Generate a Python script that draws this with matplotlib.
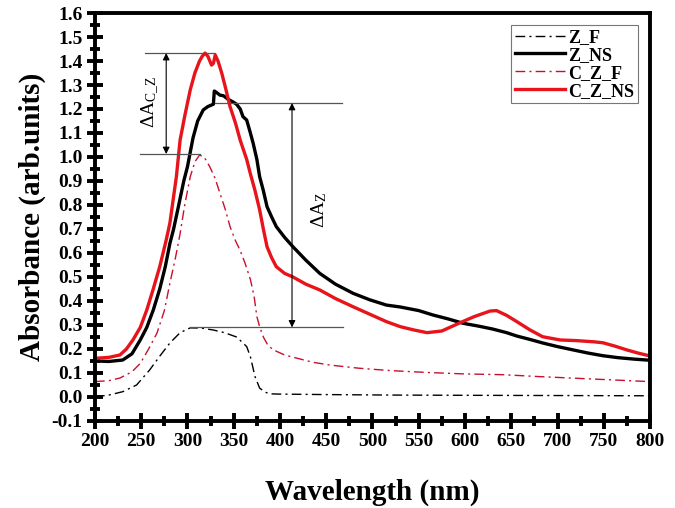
import matplotlib
matplotlib.use("Agg")
import matplotlib.pyplot as plt
from matplotlib.ticker import MultipleLocator

plt.rcParams['font.family'] = ['Liberation Serif', 'DejaVu Serif']
plt.rcParams['mathtext.fontset'] = 'custom'
plt.rcParams['mathtext.rm'] = 'Liberation Serif'
plt.rcParams['mathtext.it'] = 'Liberation Serif'

# Z_F (black dash-dot)
zf_x = [200, 215, 230, 245, 259, 270, 281, 292, 303, 315, 328, 340, 353, 360, 364,
        368, 373, 378, 384, 389, 400, 450, 519, 600, 700, 800]
zf_y = [0.001, 0.008, 0.022, 0.05, 0.112, 0.17, 0.225, 0.268, 0.288, 0.287, 0.279,
        0.268, 0.25, 0.225, 0.21, 0.168, 0.085, 0.037, 0.02, 0.013, 0.012, 0.01,
        0.008, 0.007, 0.006, 0.005]

# Z_NS (black solid)
zns_x = [200, 215, 230, 240, 249, 256, 263, 270, 276, 281, 285, 290, 296, 300, 306,
         311, 317, 322, 328, 329, 331, 335, 339, 344, 349, 353, 357, 360, 364, 368,
         371, 375, 378, 382, 386, 391, 396, 405, 414, 428, 443, 460, 479, 497, 515,
         530, 550, 565, 582, 598, 615, 630, 645, 656, 670, 684, 700, 717, 733, 749,
         765, 782, 800]
zns_y = [0.15, 0.148, 0.154, 0.18, 0.238, 0.29, 0.362, 0.45, 0.543, 0.64, 0.7,
         0.79, 0.9, 0.96, 1.08, 1.15, 1.196, 1.21, 1.22, 1.275, 1.27, 1.258, 1.255,
         1.24, 1.23, 1.22, 1.2, 1.168, 1.154, 1.1, 1.057, 0.99, 0.918, 0.86, 0.793,
         0.75, 0.71, 0.665, 0.626, 0.57, 0.515, 0.47, 0.432, 0.405, 0.383, 0.375,
         0.36, 0.342, 0.325, 0.307, 0.295, 0.283, 0.268, 0.254, 0.24, 0.225, 0.21,
         0.196, 0.183, 0.172, 0.164, 0.158, 0.153]

# C_Z_F (red dash-dot)
czf_x = [200, 215, 227, 240, 249, 258, 267, 275, 281, 287, 292, 297, 303, 308, 313,
         318, 324, 330, 335, 341, 346, 352, 357, 362, 368, 372, 375, 378, 382, 387,
         393, 405, 418, 435, 454, 485, 519, 560, 600, 640, 680, 720, 760, 800]
czf_y = [0.064, 0.068, 0.079, 0.105, 0.14, 0.2, 0.266, 0.36, 0.474, 0.58, 0.68,
         0.8, 0.918, 0.98, 1.008, 1.0, 0.96, 0.91, 0.85, 0.78, 0.71, 0.65, 0.61,
         0.56, 0.49, 0.42, 0.335, 0.293, 0.25, 0.215, 0.196, 0.175, 0.162, 0.145,
         0.133, 0.12, 0.11, 0.102, 0.096, 0.093, 0.085, 0.078, 0.071, 0.064]

# C_Z_NS (red solid)
czns_x = [200, 215, 227, 234, 241, 249, 256, 263, 270, 277, 281, 288, 292, 297, 303,
          308, 313, 316, 319, 322, 326, 328, 330, 333, 337, 341, 346, 352, 357, 364,
          368, 373, 378, 382, 386, 391, 396, 405, 414, 428, 443, 460, 479, 497, 515,
          530, 545, 559, 575, 595, 610, 627, 634, 645, 656, 670, 684, 703, 720, 739,
          749, 762, 775, 787, 800]
czns_y = [0.161, 0.165, 0.175, 0.2, 0.2375, 0.29, 0.3625, 0.45, 0.543, 0.654, 0.725,
          0.918, 1.07, 1.17, 1.28, 1.35, 1.40, 1.42, 1.433, 1.42, 1.383, 1.39, 1.425,
          1.4, 1.35, 1.29, 1.21, 1.14, 1.07, 0.99, 0.93, 0.86, 0.78, 0.7, 0.626, 0.58,
          0.543, 0.515, 0.5, 0.47, 0.446, 0.41, 0.376, 0.345, 0.314, 0.293, 0.279,
          0.268, 0.275, 0.31, 0.335, 0.358, 0.36, 0.34, 0.314, 0.28, 0.251, 0.2375,
          0.235, 0.23, 0.226, 0.212, 0.196, 0.183, 0.171]

labels = ["Z_F", "Z_NS", "C_Z_F", "C_Z_NS"]

fig = plt.figure(figsize=(6.75, 5.08), dpi=100)
ax = fig.add_axes([0.1407, 0.1713, 0.8223, 0.8031])

ax.plot(zf_x, zf_y, color='black', lw=1.0, ls=(0, (7, 3, 1.5, 3)), label=labels[0])
ax.plot(zns_x, zns_y, color='black', lw=2.4, label=labels[1])
ax.plot(czf_x, czf_y, color='#c8102e', lw=1.0, ls=(0, (7, 3, 1.5, 3)), label=labels[2])
ax.plot(czns_x, czns_y, color='#e8141b', lw=2.4, label=labels[3])

# delta annotations
gray = '#555555'
ax.plot([254, 330], [1.433, 1.433], color=gray, lw=0.9)
ax.plot([249, 313], [1.0125, 1.0125], color=gray, lw=0.9)
ax.annotate('', xy=(277, 1.433), xytext=(277, 1.0125),
            arrowprops=dict(arrowstyle='<|-|>', color='black', lw=0.8,
                            mutation_scale=10, shrinkA=0, shrinkB=0))
ax.text(261, 1.23, r'$\Delta\mathrm{A}_{\mathrm{C\_Z}}$', rotation=90, fontsize=14,
        ha='center', va='center')

ax.plot([330, 467], [1.225, 1.225], color=gray, lw=0.9)
ax.plot([303, 468], [0.29, 0.29], color=gray, lw=0.9)
ax.annotate('', xy=(413, 1.225), xytext=(413, 0.29),
            arrowprops=dict(arrowstyle='<|-|>', color='black', lw=0.8,
                            mutation_scale=10, shrinkA=0, shrinkB=0))
ax.text(442, 0.78, r'$\Delta\mathrm{A}_{\mathrm{Z}}$', rotation=90, fontsize=14,
        ha='center', va='center')

ax.set_xlim(200, 800)
ax.set_ylim(-0.1, 1.6)
ax.xaxis.set_major_locator(MultipleLocator(50))
ax.xaxis.set_minor_locator(MultipleLocator(25))
ax.yaxis.set_major_locator(MultipleLocator(0.1))
ax.yaxis.set_minor_locator(MultipleLocator(0.05))
ax.yaxis.set_major_formatter(plt.FuncFormatter(lambda v, p: f"{v:.1f}"))

ax.tick_params(which='major', direction='inout', length=12, width=2.8,
               labelsize=14, pad=3)
ax.tick_params(which='minor', direction='inout', length=7, width=2.8)
for lab in ax.get_xticklabels() + ax.get_yticklabels():
    lab.set_fontweight('bold')
for s in ax.spines.values():
    s.set_linewidth(2.8)

ax.set_xlabel("Wavelength (nm)", fontsize=21, fontweight='bold', labelpad=20)
ax.set_ylabel("Absorbance (arb.units)", fontsize=21, fontweight='bold', labelpad=4)

leg = ax.legend(loc='upper right', bbox_to_anchor=(0.978, 0.97), fancybox=False,
                edgecolor='#555555', handlelength=2.8, handletextpad=0.15,
                borderpad=0.2, labelspacing=0.05, borderaxespad=0,
                prop={'weight': 'bold', 'size': 13})
leg.get_frame().set_linewidth(0.8)

fig.savefig("out.png", dpi=100)
